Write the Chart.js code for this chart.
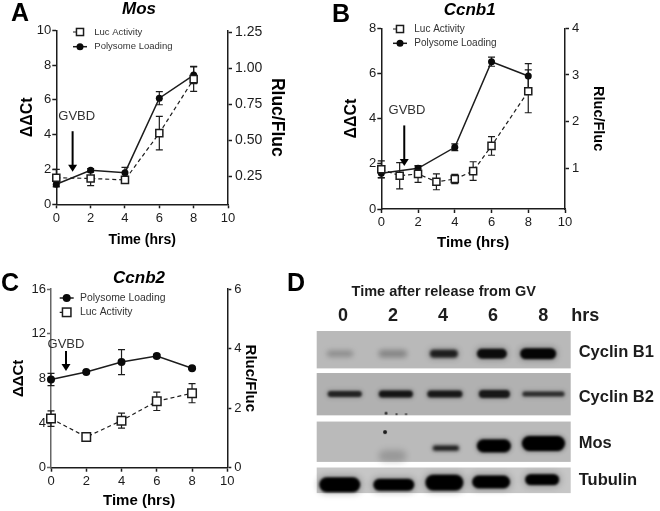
<!DOCTYPE html>
<html>
<head>
<meta charset="utf-8">
<title>Polysome loading and Luc activity</title>
<script src="https://cdn.jsdelivr.net/npm/chart.js@4"></script>
<style>
  html, body { margin: 0; padding: 0; background: #fff; }
  #page { position: relative; width: 660px; height: 511px; overflow: hidden; }
  canvas { position: absolute; filter: blur(0.35px); }
</style>
</head>
<body>
<div id="page">
  <canvas id="panelA" width="320" height="255" style="left:0;top:0"></canvas>
  <canvas id="panelB" width="320" height="255" style="left:320px;top:0"></canvas>
  <canvas id="panelC" width="280" height="246" style="left:0;top:265px"></canvas>
  <canvas id="panelD" width="380" height="246" style="left:280px;top:265px"></canvas>
</div>
<script>
// Panel A - Mos
const mosHours = [0, 2, 4, 6, 8];
const mosPolysome = [1.15, 1.95, 1.82, 6.1, 7.43];
const mosPolysomeErr = [0.15, 0.1, 0.3, 0.38, 0.5];
const mosLuc = [0.24, 0.235, 0.225, 0.55, 0.925];
const mosLucErr = [0.058, 0.05, 0.02, 0.116, 0.085];

// Panel B - Ccnb1
const ccnb1PolyHours = [0, 2, 4, 6, 8];
const ccnb1Polysome = [1.58, 1.8, 2.73, 6.52, 5.89];
const ccnb1PolysomeErr = [0.2, 0.1, 0.15, 0.2, 0.55];
const ccnb1LucHours = [0, 1, 2, 3, 4, 5, 6, 8];
const ccnb1Luc = [0.98, 0.84, 0.88, 0.71, 0.77, 0.94, 1.48, 2.65];
const ccnb1LucErr = [0.18, 0.28, 0.18, 0.17, 0.1, 0.2, 0.2, 0.46];

// Panel C - Ccnb2
const ccnb2Hours = [0, 2, 4, 6, 8];
const ccnb2Polysome = [7.9, 8.57, 9.46, 10, 8.9];
const ccnb2PolysomeErr = [0.55, 0.1, 1.12, 0.15, 0.1];
const ccnb2Luc = [1.65, 1.03, 1.58, 2.23, 2.5];
const ccnb2LucErr = [0.26, 0.05, 0.25, 0.31, 0.32];

// Panel D - blot, band darkness per lane, 0 = no band
const laneLabels = ['0', '2', '4', '6', '8', 'hrs'];
const rowNames = ['Cyclin B1', 'Cyclin B2', 'Mos', 'Tubulin'];
const cyclinB1Bands = [0.2, 0.24, 0.8, 0.92, 0.97];
const cyclinB2Bands = [0.75, 0.85, 0.82, 0.82, 0.68];
const mosBands = [0, 0, 0.8, 1, 1];
const tubulinBands = [1, 1, 1, 1, 1];

const FONT = '"Liberation Sans", Arial, sans-serif';
const INK = '#1c1c1c';

function toPoints(xs, ys) {
    return xs.map((x, i) => ({ x: x, y: ys[i] }));
}

function lucDataset(xs, ys, errs, r) {
    return {
        label: 'Luc Activity', data: toPoints(xs, ys), errs: errs, yAxisID: 'yR', clip: false,
        borderColor: INK, borderWidth: 1.2, borderDash: [4, 3], tension: 0,
        pointStyle: 'rect', pointRadius: r, pointBorderWidth: 1.5,
        pointBackgroundColor: '#fff', pointBorderColor: INK
    };
}

function polyDataset(xs, ys, errs, r) {
    return {
        label: 'Polysome Loading', data: toPoints(xs, ys), errs: errs, yAxisID: 'y', clip: false,
        borderColor: INK, borderWidth: 1.5, tension: 0,
        pointStyle: 'circle', pointRadius: r, pointBorderWidth: 0,
        pointBackgroundColor: '#0a0a0a', pointBorderColor: '#0a0a0a'
    };
}

// error bars sit under the markers, read through the chart's own scales
const errorBars = {
    id: 'errorBars',
    beforeDatasetsDraw(chart) {
        const ctx = chart.ctx;
        chart.data.datasets.forEach(ds => {
            const yScale = chart.scales[ds.yAxisID];
            ctx.save();
            ctx.strokeStyle = INK;
            ctx.lineWidth = 1.2;
            ds.data.forEach((p, i) => {
                const x = chart.scales.x.getPixelForValue(p.x);
                const top = yScale.getPixelForValue(p.y + ds.errs[i]);
                const bot = yScale.getPixelForValue(p.y - ds.errs[i]);
                ctx.beginPath();
                ctx.moveTo(x, top); ctx.lineTo(x, bot);
                ctx.moveTo(x - 3.5, top); ctx.lineTo(x + 3.5, top);
                ctx.moveTo(x - 3.5, bot); ctx.lineTo(x + 3.5, bot);
                ctx.stroke();
            });
            ctx.restore();
        });
    }
};

function panelNotes(cfg) {
    return {
        id: 'panelNotes',
        afterDraw(chart) {
            const ctx = chart.ctx;
            ctx.save();
            ctx.textBaseline = 'middle';

            ctx.fillStyle = '#000';
            ctx.textAlign = 'left';
            ctx.font = `bold 25px ${FONT}`;
            ctx.fillText(cfg.letter, cfg.letterX, cfg.letterY);

            ctx.textAlign = 'center';
            ctx.font = `italic bold 17px ${FONT}`;
            ctx.fillText(cfg.title, cfg.titleX, cfg.titleY);

            // GVBD arrow
            const ax = chart.scales.x.getPixelForValue(cfg.arrowX);
            const aTop = chart.scales.y.getPixelForValue(cfg.arrowTop);
            const aTip = chart.scales.y.getPixelForValue(cfg.arrowTip);
            ctx.fillStyle = '#333';
            ctx.font = `13px ${FONT}`;
            ctx.fillText('GVBD', cfg.gvbdX, chart.scales.y.getPixelForValue(cfg.gvbdY));
            ctx.strokeStyle = '#000';
            ctx.fillStyle = '#000';
            ctx.lineWidth = 2;
            ctx.beginPath();
            ctx.moveTo(ax, aTop); ctx.lineTo(ax, aTip - 5);
            ctx.stroke();
            ctx.beginPath();
            ctx.moveTo(ax - 4.5, aTip - 7); ctx.lineTo(ax + 4.5, aTip - 7); ctx.lineTo(ax, aTip);
            ctx.closePath();
            ctx.fill();

            // legend
            cfg.legendOrder.forEach((dsIndex, row) => {
                const ds = chart.data.datasets[dsIndex];
                const y = cfg.legendY[row];
                const mx = cfg.legendX;
                ctx.strokeStyle = INK;
                ctx.lineWidth = ds.borderWidth;
                ctx.setLineDash(ds.borderDash || []);
                ctx.beginPath();
                ctx.moveTo(mx - 7, y); ctx.lineTo(mx + 7, y);
                ctx.stroke();
                ctx.setLineDash([]);
                if (ds.pointStyle === 'rect') {
                    const side = ds.pointRadius * Math.SQRT2;
                    ctx.fillStyle = '#fff';
                    ctx.lineWidth = ds.pointBorderWidth;
                    ctx.fillRect(mx - side / 2, y - side / 2, side, side);
                    ctx.strokeRect(mx - side / 2, y - side / 2, side, side);
                } else {
                    ctx.fillStyle = '#0a0a0a';
                    ctx.beginPath();
                    ctx.arc(mx, y, ds.pointRadius, 0, Math.PI * 2);
                    ctx.fill();
                }
                ctx.fillStyle = '#333';
                ctx.textAlign = 'left';
                ctx.font = `${cfg.legendFont}px ${FONT}`;
                ctx.fillText(ds.label, cfg.legendTextX, y);
                ctx.textAlign = 'center';
            });
            ctx.restore();
        }
    };
}

function drawPanel(cfg) {
    const canvas = document.getElementById(cfg.id);
    const a = cfg.area;
    const lw = a.left - cfg.yTitle.at + cfg.yTitle.size * 0.6;
    const rw = cfg.rTitle.at - a.right + cfg.rTitle.size * 0.6;
    const bh = cfg.xTitle.at - a.bottom + cfg.xTitle.size * 0.6;
    const axisStyle = color => ({
        border: { display: true, color: color, width: 1.5 },
        grid: { drawOnChartArea: false, drawTicks: true, tickLength: 4, tickColor: color, tickWidth: 1.5 }
    });
    const titleOf = (text, t) => ({
        display: true, text: text, color: '#000', padding: 0,
        font: { family: FONT, size: t.size, weight: 'bold' }
    });

    return new Chart(canvas, {
        type: 'line',
        data: { datasets: cfg.datasets },
        options: {
            responsive: false,
            animation: false,
            layout: {
                padding: {
                    left: a.left - lw,
                    right: canvas.width - a.right - rw,
                    top: a.top,
                    bottom: canvas.height - a.bottom - bh
                }
            },
            plugins: { legend: { display: false }, tooltip: { enabled: false } },
            scales: {
                x: {
                    type: 'linear', min: 0, max: 10,
                    ...axisStyle(INK),
                    ticks: { stepSize: 2, color: INK, padding: 2, maxRotation: 0, font: { family: FONT, size: 13 } },
                    title: titleOf('Time (hrs)', cfg.xTitle),
                    afterFit: s => { s.height = bh; }
                },
                y: {
                    min: 0, max: cfg.yMax,
                    ...axisStyle(cfg.leftColor || INK),
                    ticks: { stepSize: cfg.yStep, color: INK, padding: 1, font: { family: FONT, size: 13 } },
                    title: titleOf('\u0394\u0394Ct', cfg.yTitle),
                    afterFit: s => { s.width = lw; }
                },
                yR: {
                    position: 'right', min: cfg.rMin, max: cfg.rMax,
                    ...axisStyle(INK),
                    afterBuildTicks: s => { s.ticks = cfg.rTicks.map(v => ({ value: v })); },
                    ticks: {
                        color: INK, padding: 3, autoSkip: false,
                        font: { family: FONT, size: cfg.rFont },
                        callback: v => cfg.rTicks.includes(v) ? v.toFixed(cfg.rDigits) : ''
                    },
                    title: titleOf('Rluc/Fluc', cfg.rTitle),
                    afterFit: s => { s.width = rw; }
                }
            }
        },
        plugins: [errorBars, panelNotes(cfg)]
    });
}

drawPanel({
    id: 'panelA', area: { left: 56.3, right: 228, top: 30.3, bottom: 204.3 },
    datasets: [
        lucDataset(mosHours, mosLuc, mosLucErr, 5),
        polyDataset(mosHours, mosPolysome, mosPolysomeErr, 3.5)
    ],
    yMax: 10, yStep: 2, rMin: 0.0556, rMax: 1.264, rTicks: [0.25, 0.5, 0.75, 1, 1.25], rDigits: 2, rFont: 14,
    xTitle: { at: 240, size: 14 }, yTitle: { at: 28, size: 16 }, rTitle: { at: 277, size: 17.5 },
    letter: 'A', letterX: 11, letterY: 14, title: 'Mos', titleX: 139, titleY: 9,
    arrowX: 0.95, arrowTop: 4.2, arrowTip: 1.87, gvbdX: 76.7, gvbdY: 5.07,
    legendOrder: [0, 1], legendX: 80, legendTextX: 94.3, legendY: [32, 46.7], legendFont: 9.5
});

drawPanel({
    id: 'panelB', area: { left: 61.3, right: 245, top: 28.3, bottom: 209 },
    datasets: [
        lucDataset(ccnb1LucHours, ccnb1Luc, ccnb1LucErr, 5),
        polyDataset(ccnb1PolyHours, ccnb1Polysome, ccnb1PolysomeErr, 3.5)
    ],
    yMax: 8, yStep: 2, rMin: 0.128, rMax: 4, rTicks: [1, 2, 3, 4], rDigits: 0, rFont: 13,
    xTitle: { at: 242.7, size: 15 }, yTitle: { at: 32, size: 16 }, rTitle: { at: 278, size: 14.5 },
    letter: 'B', letterX: 12, letterY: 15, title: 'Ccnb1', titleX: 149.7, titleY: 10,
    arrowX: 1.25, arrowTop: 3.7, arrowTip: 1.9, gvbdX: 87, gvbdY: 4.38,
    legendOrder: [0, 1], legendX: 80, legendTextX: 94.3, legendY: [29, 43.3], legendFont: 10
});

drawPanel({
    id: 'panelC', area: { left: 51, right: 227.3, top: 24, bottom: 202.7 },
    datasets: [
        lucDataset(ccnb2Hours, ccnb2Luc, ccnb2LucErr, 6),
        polyDataset(ccnb2Hours, ccnb2Polysome, ccnb2PolysomeErr, 4)
    ],
    yMax: 16, yStep: 4, rMin: 0, rMax: 6, rTicks: [0, 2, 4, 6], rDigits: 0, rFont: 13, leftColor: '#666',
    xTitle: { at: 236, size: 15 }, yTitle: { at: 19, size: 15 }, rTitle: { at: 250, size: 15 },
    letter: 'C', letterX: 1, letterY: 19, title: 'Ccnb2', titleX: 139, titleY: 13,
    arrowX: 0.85, arrowTop: 10.45, arrowTip: 8.66, gvbdX: 66, gvbdY: 11.07,
    legendOrder: [1, 0], legendX: 66.7, legendTextX: 80, legendY: [33, 47.3], legendFont: 10.4
});

// Panel D: gel drawn as a scatter chart, x in hours, y in px-like units from the top of the first strip
const gelStrips = [
    { top: 0, bottom: 38, shade: '#b9b9b9' },
    { top: 42.7, bottom: 85.7, shade: '#b1b1b1' },
    { top: 92, bottom: 133, shade: '#bababa' },
    { top: 138.7, bottom: 164.7, shade: '#c6c6c6' }
];
const rowLabelAt = [22, 68, 114, 152];

function bandSprite(w, h, darkness, blur, halo) {
    const pad = Math.ceil(Math.max(blur * 3, halo * 2)) + 4;
    const c = document.createElement('canvas');
    c.width = Math.ceil(w + pad * 2);
    c.height = Math.ceil(h + pad * 2);
    const ctx = c.getContext('2d');
    const x = (c.width - w) / 2, y = (c.height - h) / 2;
    if (halo > 0) {
        ctx.filter = `blur(${halo}px)`;
        ctx.fillStyle = `rgba(0,0,0,${darkness * 0.3})`;
        ctx.beginPath();
        ctx.roundRect(x - 1, y - 1, w + 2, h + 2, h / 2);
        ctx.fill();
    }
    ctx.filter = `blur(${blur}px)`;
    ctx.fillStyle = `rgba(0,0,0,${darkness})`;
    ctx.beginPath();
    ctx.roundRect(x, y, w, h, h / 2);
    ctx.fill();
    return c;
}

function bandDataset(darkness, xs, ys, ws, hs, blurs, halo) {
    const keep = darkness.map((d, i) => i).filter(i => darkness[i] > 0);
    return {
        data: keep.map(i => ({ x: xs[i], y: ys[i] })),
        pointStyle: keep.map(i => bandSprite(ws[i], hs[i], darkness[i], blurs[i], halo)),
        pointRadius: 1,
        clip: false
    };
}

const gelNotes = {
    id: 'gelNotes',
    beforeDatasetsDraw(chart) {
        const ctx = chart.ctx, a = chart.chartArea, y = chart.scales.y;
        ctx.save();
        gelStrips.forEach(s => {
            ctx.fillStyle = s.shade;
            ctx.fillRect(a.left, y.getPixelForValue(s.top), a.right - a.left, y.getPixelForValue(s.bottom) - y.getPixelForValue(s.top));
        });
        ctx.restore();
    },
    afterDraw(chart) {
        const ctx = chart.ctx;
        ctx.save();
        ctx.fillStyle = '#000';
        ctx.textBaseline = 'middle';
        ctx.font = `bold 25px ${FONT}`;
        ctx.fillText('D', 7, 19);
        ctx.restore();
    }
};

new Chart(document.getElementById('panelD'), {
    type: 'scatter',
    data: {
        datasets: [
            bandDataset(cyclinB1Bands, [-0.12, 1.99, 4.03, 5.95, 7.8], [23, 23, 23, 23, 23], [26, 28, 28, 30, 36], [6, 7, 8, 10, 11], [2.5, 2.5, 1.5, 1.3, 1.3], 3),
            bandDataset(cyclinB2Bands, [0.07, 2.11, 4.07, 6.05, 8.01], [64, 64, 64, 64, 64], [34, 34, 35, 31, 42], [6, 7, 7, 8, 5], [1, 1, 1, 1, 1], 2),
            bandDataset(mosBands, [0, 0, 4.11, 6.03, 8.01], [0, 0, 119, 116.7, 114.3], [0, 0, 26, 34, 43], [0, 0, 5, 13, 15], [1.2, 1.2, 1.4, 1, 1], 2),
            bandDataset([0.18], [1.98], [127], [28], [12], [3], 0),
            // specks under lane 2
            bandDataset([0.75, 0.6, 0.6, 0.85], [1.72, 2.14, 2.52, 1.68], [83.5, 84.5, 84.5, 102.7], [3, 2.5, 2.5, 4], [3, 2, 2, 4], [0.5, 0.5, 0.5, 0.5], 0),
            bandDataset(tubulinBands, [-0.13, 2.03, 4.05, 5.92, 7.96], [156.2, 156.2, 154, 153.3, 151], [41, 41, 38, 38, 34], [15, 12, 16, 13, 11], [0.9, 0.9, 0.9, 0.9, 0.9], 3.5)
        ]
    },
    options: {
        responsive: false,
        animation: false,
        layout: { padding: { left: 36.7, right: 0, top: 16, bottom: 15.3 } },
        plugins: { legend: { display: false }, tooltip: { enabled: false } },
        scales: {
            x: {
                type: 'linear', position: 'top', min: -1.05, max: 9.1,
                border: { display: false },
                grid: { display: false, drawTicks: false },
                afterBuildTicks: s => { s.ticks = [0, 2, 4, 6, 8, 9.68].map(v => ({ value: v })); },
                ticks: {
                    color: INK, padding: 4, autoSkip: false, maxRotation: 0,
                    font: { family: FONT, size: 18, weight: 'bold' },
                    callback: (v, i) => laneLabels[i]
                },
                title: {
                    display: true, text: 'Time after release from GV', color: INK,
                    padding: { top: 2, bottom: 0 },
                    font: { family: FONT, size: 14.5, weight: 'bold' }
                },
                afterFit: s => { s.height = 50; }
            },
            y: {
                position: 'right', reverse: true, min: 0, max: 164.7,
                border: { display: false },
                grid: { display: false, drawTicks: false },
                afterBuildTicks: s => { s.ticks = rowLabelAt.map(v => ({ value: v })); },
                ticks: {
                    color: INK, padding: 8, autoSkip: false,
                    font: { family: FONT, size: 16.5, weight: 'bold' },
                    callback: (v, i) => rowNames[i]
                },
                afterFit: s => { s.width = 89.3; }
            }
        }
    },
    plugins: [gelNotes]
});
</script>
</body>
</html>
